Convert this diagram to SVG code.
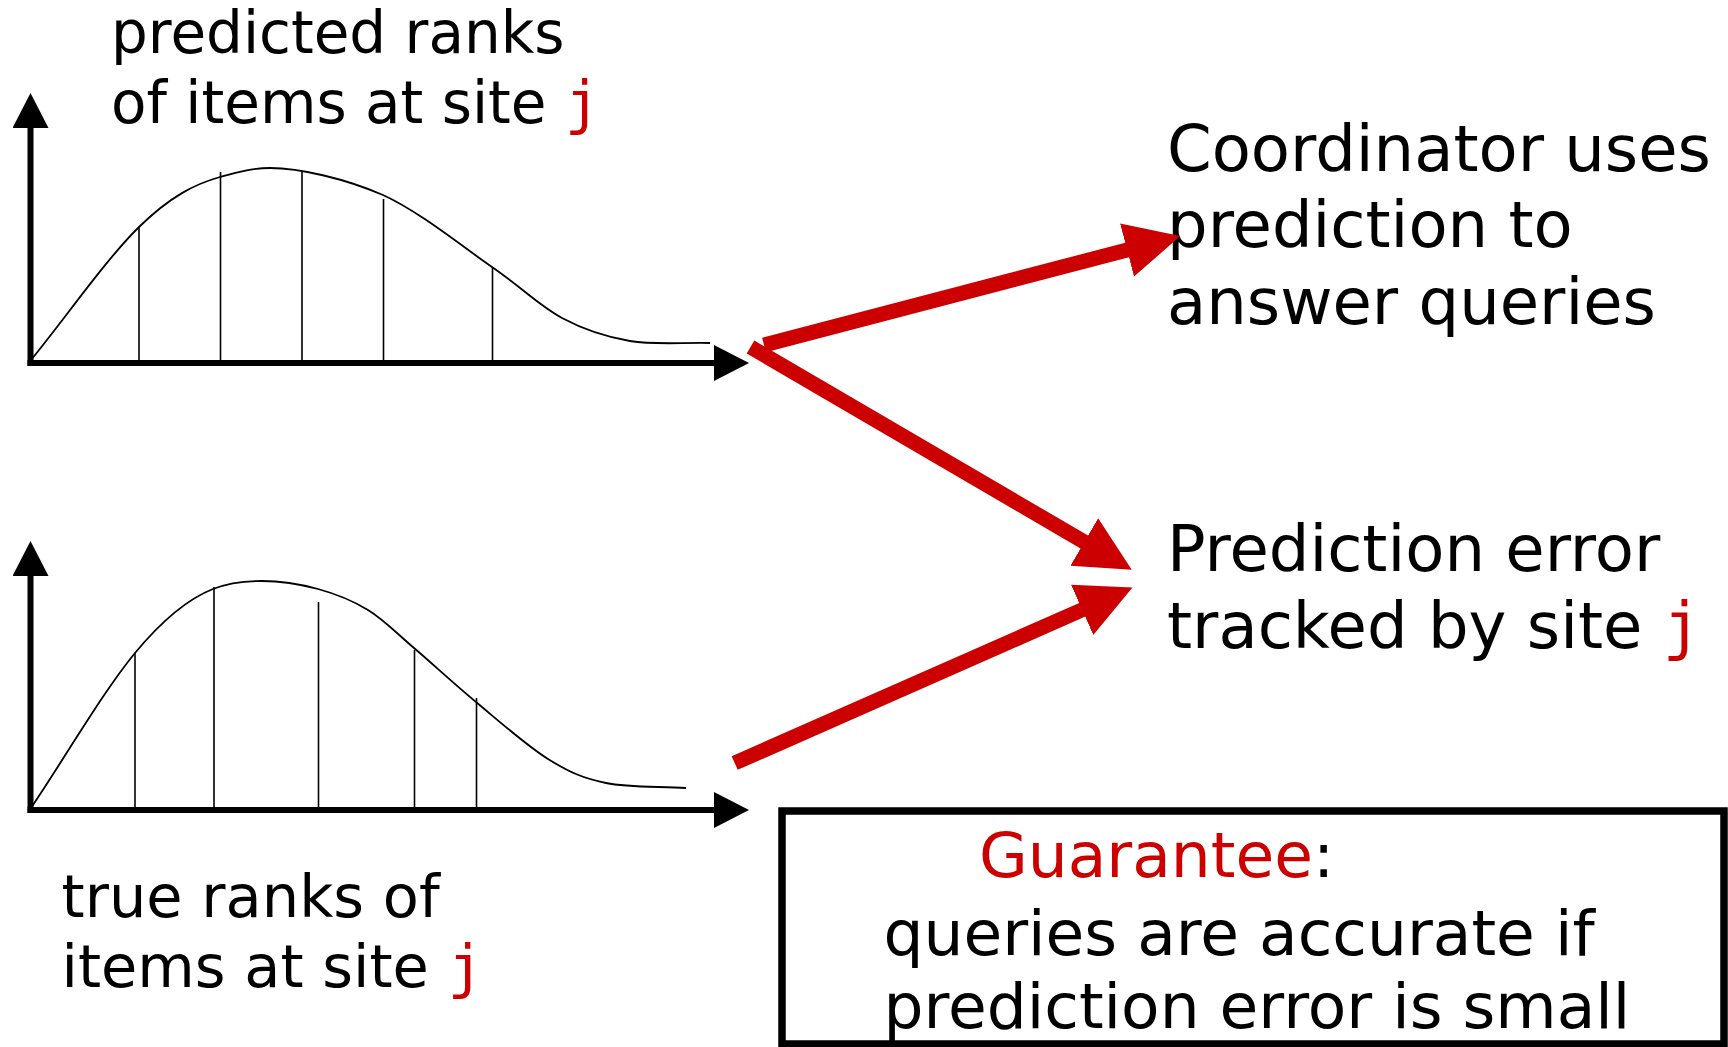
<svg xmlns="http://www.w3.org/2000/svg" width="1728" height="1047" viewBox="0 0 1728 1047">
<defs>
<style>
.t{font-family:"DejaVu Sans","Verdana",sans-serif;fill:#000}
.j{font-family:"DejaVu Sans Mono","Liberation Mono",monospace;fill:#cc0000}
.red{fill:#cc0000}
.axis{stroke:#000;stroke-width:6;fill:none}
.curve{stroke:#000;stroke-width:1.8;fill:none}
.tick{stroke:#000;stroke-width:1.6}
.rarrow{stroke:#cc0000;stroke-width:15;fill:none}
</style>
<marker id="ah" markerUnits="userSpaceOnUse" markerWidth="36" markerHeight="36" refX="1" refY="18" orient="auto">
<path d="M0,0 L35,18 L0,36 z" fill="#000"/>
</marker>
<marker id="rh" markerUnits="userSpaceOnUse" markerWidth="56" markerHeight="56" refX="2" refY="27.5" orient="auto">
<path d="M0,0 L55,27.5 L0,55 z" fill="#cc0000"/>
</marker>
</defs>
<rect width="1728" height="1047" fill="#fff"/>

<g id="chart-predicted">
<path class="axis" d="M30.5,366 L30.5,127" marker-end="url(#ah)"/>
<path class="axis" d="M27.5,363 L715,363" marker-end="url(#ah)"/>
<path class="curve" d="M31,360 C67,315.7 107.5,257.7 139,227 C170.5,196.3 195,184 220,177 C238,172 252,168 270,168 C300,168 346,179 383,195 C419.3,211.5 462.2,246.5 492,267 C521.8,287.5 539,305.7 562,318 C585,330.3 605.3,336.8 630,341 C654.7,345.2 683.3,342.3 710,343"/>
<line class="tick" x1="139" y1="227" x2="139" y2="361"/>
<line class="tick" x1="220.5" y1="172" x2="220.5" y2="361"/>
<line class="tick" x1="302" y1="172" x2="302" y2="361"/>
<line class="tick" x1="383.5" y1="199" x2="383.5" y2="361"/>
<line class="tick" x1="492.5" y1="267" x2="492.5" y2="361"/>
<text class="t" x="111" y="53" font-size="58">predicted ranks</text>
<text class="t" x="111" y="123" font-size="58">of items at site <tspan class="j">j</tspan></text>
</g>

<g id="chart-true">
<path class="axis" d="M30.5,813 L30.5,575" marker-end="url(#ah)"/>
<path class="axis" d="M27.5,810 L715,810" marker-end="url(#ah)"/>
<path class="curve" d="M31,808 C65.7,756.3 104.7,689.5 135,653 C165.3,616.5 190,598 213,589 C230,582.3 245,581 262,581 C285,581 300.7,584.3 318,589 C335.3,593.7 352,600.2 368,610 C384,619.8 396,632.7 414,648 C432,663.3 453.7,683.5 476,702 C498.3,720.5 526.3,745.5 548,759 C569.7,772.5 583,778.2 606,783 C629,787.8 659.3,786.3 686,788"/>
<line class="tick" x1="135" y1="653" x2="135" y2="808"/>
<line class="tick" x1="214" y1="587" x2="214" y2="808"/>
<line class="tick" x1="318.5" y1="602" x2="318.5" y2="808"/>
<line class="tick" x1="414.5" y1="650" x2="414.5" y2="808"/>
<line class="tick" x1="476.5" y1="698" x2="476.5" y2="808"/>
<text class="t" x="61.5" y="917" font-size="59">true ranks of</text>
<text class="t" x="61.5" y="987" font-size="59">items at site <tspan class="j">j</tspan></text>
</g>

<g id="coordinator">
<text class="t" x="1167" y="171" font-size="64">Coordinator uses</text>
<text class="t" x="1167" y="247" font-size="64">prediction to</text>
<text class="t" x="1167" y="324" font-size="64">answer queries</text>
</g>

<g id="prediction-error">
<text class="t" x="1167" y="571" font-size="64">Prediction error</text>
<text class="t" x="1167" y="648" font-size="64">tracked by site <tspan class="j">j</tspan></text>
</g>

<g id="guarantee">
<rect x="782" y="811" width="942" height="233" fill="none" stroke="#000" stroke-width="7.5"/>
<text class="t" x="979" y="877" font-size="63"><tspan class="red">Guarantee</tspan>:</text>
<text class="t" x="883.5" y="955" font-size="63">queries are accurate if</text>
<text class="t" x="883.5" y="1028" font-size="63">prediction error is small</text>
</g>

<g id="connectors">
<path class="rarrow" d="M764,345 L1129,249.5" marker-end="url(#rh)"/>
<path class="rarrow" d="M750.5,347 L1086,543" marker-end="url(#rh)"/>
<path class="rarrow" d="M734.7,763 L1084,609" marker-end="url(#rh)"/>
</g>
</svg>
